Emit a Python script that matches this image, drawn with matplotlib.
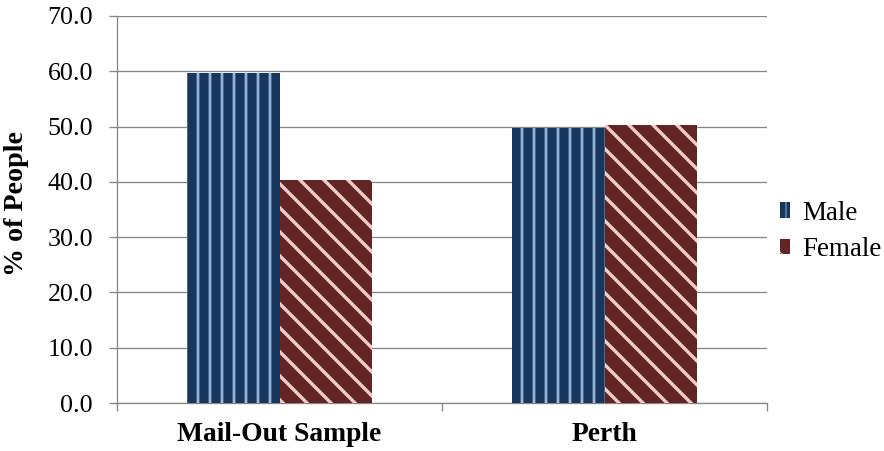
import matplotlib
matplotlib.use("Agg")
import matplotlib.pyplot as plt
import numpy as np

categories = ["Mail-Out Sample", "Perth"]
male = [59.7, 49.7]
female = [40.3, 50.3]
series_names = ["Male", "Female"]
yticks = [0, 10, 20, 30, 40, 50, 60, 70]

DPI = 72
plt.rcParams["font.family"] = ["Liberation Serif", "DejaVu Serif"]

fig = plt.figure(figsize=(884 / DPI, 451 / DPI), dpi=DPI)
ax = fig.add_axes([117 / 884, 1 - 403 / 451, 650 / 884, 387 / 451])

x = np.arange(len(categories))
w = 0.286
grid_c = "#868686"

with plt.rc_context({"hatch.linewidth": 2.8}):
    ax.bar(x - w / 2, male, width=w, color="#17375E", edgecolor="#95B3D7",
           hatch="|", linewidth=0, label=series_names[0], zorder=3)
with plt.rc_context({"hatch.linewidth": 3.4}):
    ax.bar(x + w / 2, female, width=w, color="#632523", edgecolor="#EFCBCA",
           hatch="\\", linewidth=0, label=series_names[1], zorder=3)

ax.set_xlim(-0.5, len(categories) - 0.5)
ax.set_ylim(0, 70)
ax.set_yticks(yticks)
ax.set_yticklabels([f"{v:.1f}" for v in yticks], fontsize=26)
ax.yaxis.grid(True, color=grid_c, linewidth=1.3, zorder=0)
ax.set_axisbelow(True)

ax.set_xticks(x)
ax.set_xticklabels(categories, fontsize=27.5, fontweight="bold")
ax.set_xticks(np.arange(-0.5, len(categories)), minor=True)
ax.tick_params(axis="x", which="major", length=0, pad=19)
ax.tick_params(axis="x", which="minor", length=8, width=1.3, color=grid_c)
ax.tick_params(axis="y", length=8, width=1.3, color=grid_c, pad=16)

for s in ("top", "right"):
    ax.spines[s].set_visible(False)
for s in ("left", "bottom"):
    ax.spines[s].set_color(grid_c)
    ax.spines[s].set_linewidth(1.3)

fig.text(23 / 884, 1 - 204 / 451, "% of People", fontsize=28, fontweight="bold",
         rotation=90, rotation_mode="anchor", ha="center", va="baseline")

leg = ax.legend(loc="center left", bbox_to_anchor=(780 / 884, 1 - 231.5 / 451),
                bbox_transform=fig.transFigure, frameon=False, fontsize=27,
                handlelength=0.37, handleheight=0.52, handletextpad=0.44,
                labelspacing=0.42, borderaxespad=0, borderpad=0)

fig.savefig("out.png", dpi=DPI)
